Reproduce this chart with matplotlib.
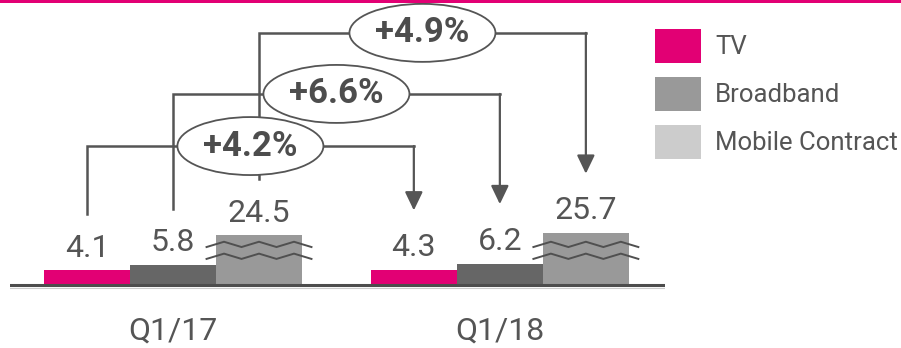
import numpy as np
import matplotlib.pyplot as plt
from matplotlib.patches import Ellipse, Patch, Rectangle

periods = ["Q1/17", "Q1/18"]
series = ["TV", "Broadband", "Mobile Contract"]
tv = [4.1, 4.3]
broadband = [5.8, 6.2]
mobile = [24.5, 25.7]
growth = ["+4.2%", "+6.6%", "+4.9%"]

MAGENTA = "#E20074"
bar_colors = [MAGENTA, "#666666", "#999999"]
legend_colors = [MAGENTA, "#999999", "#CCCCCC"]
TXT = "#555555"
LINE = "#555555"

plt.rcParams["font.family"] = ["Roboto", "DejaVu Sans"]

W, H = 901, 348
fig = plt.figure(figsize=(W / 100, H / 100), dpi=100)
ax = fig.add_axes([10 / W, 48 / H, 655 / W, 300 / H])
ax.set_xlim(-0.895, 6.72)
ax.set_ylim(-4.85, 86.06)
ax.axis("off")

# magenta rule at the very top
fig.add_artist(Rectangle((0, 1 - 3 / H), 1, 3 / H, transform=fig.transFigure,
                         facecolor=MAGENTA, edgecolor="none"))

group_x = [0, 3.8]
values = [tv, broadband, mobile]
shown = [tv, broadband, [v * 0.6 for v in mobile]]  # contract bars are cut (broken axis)

for i, (vals, hs) in enumerate(zip(values, shown)):
    xs = [g + i for g in group_x]
    ax.bar(xs, hs, width=1.0, color=bar_colors[i], linewidth=0, zorder=2)
    for x, h, v in zip(xs, hs, vals):
        ax.annotate(f"{v:.1f}", (x, h), xytext=(0, 10), textcoords="offset points",
                    ha="center", va="baseline", fontsize=23, color=TXT)

# break marks on the cut bars
zx = np.linspace(-0.61, 0.61, 7)
zy = np.array([-0.8, 0.8, -0.8, 0.8, -0.8, 0.8, -0.8])
for g in group_x:
    for yb in [12.0, 8.4]:
        ax.plot(g + 2 + zx, yb + zy, color="#505050", lw=1.4, zorder=3,
                solid_joinstyle="miter")

# baseline
ax.axhline(-0.45, color="#4d4d4d", lw=2.2, zorder=3)
ax.axhline(-1.1, color="#cccccc", lw=0.8, zorder=3)

# growth brackets
levels = [41.8, 57.6, 76.1]
for i in range(3):
    x0, x1 = group_x[0] + i, group_x[1] + i
    y0 = shown[i][0] + 17
    y1 = shown[i][1] + 18
    lev = levels[i]
    ax.plot([x0, x0, x1], [y0, lev, lev], color=LINE, lw=1.8, zorder=3,
            solid_joinstyle="miter")
    ax.annotate("", xy=(x1, y1), xytext=(x1, lev),
                arrowprops=dict(arrowstyle="-|>,head_length=0.75,head_width=0.36",
                                mutation_scale=15, color=LINE, lw=1.6,
                                shrinkA=0, shrinkB=0), zorder=3)
    xm = (x0 + x1) / 2
    ax.add_patch(Ellipse((xm, lev), 146 / 86, 58 / 3.3, facecolor="white",
                         edgecolor=LINE, lw=1.3, zorder=4))
    ax.text(xm, lev, growth[i], ha="center", va="center", fontsize=25,
            fontweight="bold", color="#4d4d4d", zorder=5)

# period labels
for g, lab in zip(group_x, periods):
    ax.annotate(lab, (g + 1, 0), xytext=(0, -40.3), textcoords="offset points",
                ha="center", va="baseline", fontsize=23, color=TXT,
                annotation_clip=False)

# legend
fs = 18.5
fspx = fs * 100 / 72
handles = [Patch(facecolor=c, edgecolor="none", label=s)
           for c, s in zip(legend_colors, series)]
fig.legend(handles=handles, loc="upper left",
           bbox_to_anchor=(655 / W, 1 - 29 / H), frameon=False,
           fontsize=fs, handlelength=46 / fspx, handleheight=1.66,
           handletextpad=14 / fspx, labelspacing=14 / fspx,
           borderpad=0, borderaxespad=0, labelcolor=TXT)

fig.savefig("out.png", dpi=100)
